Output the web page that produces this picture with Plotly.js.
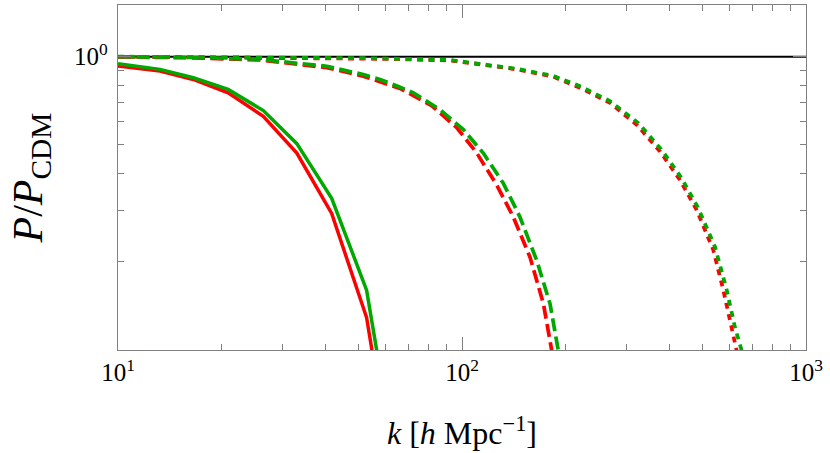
<!DOCTYPE html>
<html>
<head>
<meta charset="utf-8">
<script src="https://cdn.plot.ly/plotly-3.0.1.min.js"></script>
<style>html,body{margin:0;padding:0;background:#fff;}#plot{width:830px;height:453px;}</style>
</head>
<body>
<div id="plot"></div>
<script>
// Solid curves
const kSolid = [10, 13.25, 16.55, 20.9, 26.45, 33.1, 41.8, 52.8, 66.5];
const redSolid = [0.929, 0.893, 0.836, 0.753, 0.626, 0.469, 0.292, 0.129, 0.025];
const greenSolid = [0.946, 0.905, 0.847, 0.773, 0.655, 0.505, 0.329, 0.160, 0.032];

// Dashed curves
const kRedDash = [10, 16.19, 25.87, 40.44, 51.66, 66.04, 81.63, 96.5, 110.3, 126.2, 141.0, 157.7, 172.4, 182.3, 195];
const redDash = [0.998, 0.991, 0.974, 0.917, 0.858, 0.779, 0.681, 0.573, 0.470, 0.365, 0.284, 0.207, 0.144, 0.0994, 0.064];
const kGreenDash = [10, 16.19, 25.87, 40.44, 51.66, 57.77, 66.04, 72.2, 86.3, 100.9, 115.3, 131.9, 147.4, 164.9, 180.3, 190.5, 205];
const greenDash = [0.999, 0.994, 0.979, 0.927, 0.869, 0.836, 0.787, 0.753, 0.660, 0.564, 0.469, 0.370, 0.284, 0.202, 0.1437, 0.0994, 0.061];

// Dotted curves
const kRedDot = [10, 24.2, 57.8, 92.3, 144.2, 184.2, 220.3, 269.3, 322.0, 376.4, 430.1, 481.2, 537.8, 575.0, 614.8, 628.8, 660];
const redDot = [0.999, 0.9945, 0.983, 0.971, 0.905, 0.854, 0.783, 0.696, 0.586, 0.475, 0.380, 0.300, 0.219, 0.160, 0.1135, 0.0994, 0.07];
const kGreenDot = [10, 24.2, 57.8, 92.3, 144.2, 184.2, 220.3, 269.3, 325.5, 380.7, 435.1, 486.4, 543.9, 588.3, 621.6, 650.4, 685];
const greenDot = [1.0, 0.997, 0.987, 0.974, 0.909, 0.860, 0.793, 0.705, 0.594, 0.481, 0.385, 0.304, 0.2245, 0.160, 0.1195, 0.0994, 0.07];

// Reference line
const kRef = [10, 1000];
const ref = [1, 1];

// Ticks
const xTickVals = [10, 100, 1000];
const xTickText = ['10<sup>1</sup>', '10<sup>2</sup>', '10<sup>3</sup>'];
const xMinor = [20,30,40,50,60,70,80,90,200,300,400,500,600,700,800,900];
const yTickVals = [1];
const yTickText = ['10<sup>0</sup>'];
const yMinor = [0.2,0.3,0.4,0.5,0.6,0.7,0.8,0.9];

const RED = '#ff0000', GREEN = '#00a800';
const W = 3.7;
const DASH = '13px,5.5px';
const DOT = '6px,5.5px';
const traces = [
  {x: kRef, y: ref, mode: 'lines', line: {color: '#000000', width: 2}},
  {x: kSolid, y: redSolid, mode: 'lines', line: {color: RED, width: 3.5}},
  {x: kSolid, y: greenSolid, mode: 'lines', line: {color: GREEN, width: 3.5}},
  {x: kRedDash, y: redDash, mode: 'lines', line: {color: RED, width: W, dash: DASH}},
  {x: kGreenDash, y: greenDash, mode: 'lines', line: {color: GREEN, width: W, dash: DASH}},
  {x: kRedDot, y: redDot, mode: 'lines', line: {color: RED, width: W, dash: DOT}},
  {x: kGreenDot, y: greenDot, mode: 'lines', line: {color: GREEN, width: W, dash: DOT}}
];

const FONT = 'Liberation Serif, DejaVu Serif, serif';
const axisCommon = {
  type: 'log', showgrid: false, zeroline: false,
  showline: true, linecolor: '#808080', linewidth: 1.3, mirror: 'ticks',
  ticks: 'inside', ticklen: 13, tickwidth: 1, tickcolor: '#808080',
  tickmode: 'array', automargin: false,
  tickfont: {family: FONT, size: 25, color: '#000'}
};

const layout = {
  width: 830, height: 453,
  margin: {l: 118, r: 24, t: 5, b: 103},
  paper_bgcolor: '#fff', plot_bgcolor: '#fff',
  showlegend: false,
  xaxis: Object.assign({}, axisCommon, {
    range: [1, 3], tickvals: xTickVals, ticktext: xTickText,
    minor: {tickmode: 'array', tickvals: xMinor, ticks: 'inside', ticklen: 6, tickcolor: '#808080', tickwidth: 1, showgrid: false},
    title: {text: '<i>k</i> [<i>h</i> Mpc<sup>−1</sup>]', font: {family: FONT, size: 32, color: '#000'}, standoff: 36}
  }),
  yaxis: Object.assign({}, axisCommon, {
    range: [-1, 0.176], tickvals: yTickVals, ticktext: yTickText,
    ticklabelstandoff: 4,
    minor: {tickmode: 'array', tickvals: yMinor, ticks: 'inside', ticklen: 6, tickcolor: '#808080', tickwidth: 1, showgrid: false},
    title: {text: '<i>P</i>/<i>P</i><sub>CDM</sub>', font: {family: FONT, size: 42, color: '#000'}, standoff: 18}
  })
};

Plotly.newPlot('plot', traces, layout, {displayModeBar: false, staticPlot: true});
</script>
</body>
</html>
